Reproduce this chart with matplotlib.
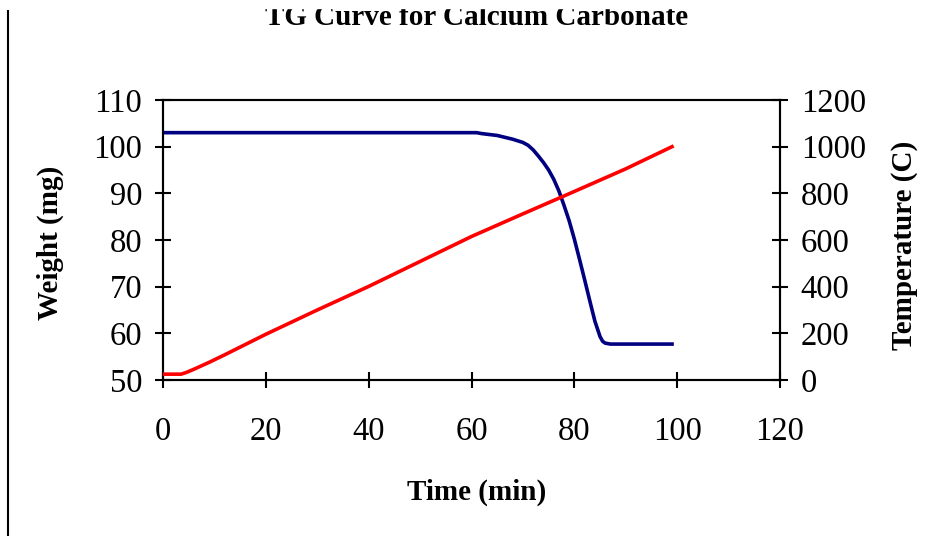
import matplotlib
matplotlib.use("Agg")
import matplotlib.pyplot as plt
from matplotlib.lines import Line2D
from matplotlib.patches import Rectangle

# weight loss curve (left axis)
time_w = [0, 61, 62, 65, 68, 70, 71, 72, 73, 74, 75, 76, 77, 78, 79, 80, 81, 82, 83, 84, 85, 85.5,
          86, 87, 99]
weight = [103, 103, 102.8, 102.4, 101.6, 100.9, 100.3, 99.3, 98.0, 96.6, 95.0, 93.0, 90.5, 87.4,
          84.1, 80.2, 75.9, 71.5, 67.0, 62.6, 59.3, 58.3, 57.9, 57.7, 57.7]

# furnace temperature (right axis)
time_t = [0, 3.5, 4.5, 6, 9, 12, 14, 20, 30, 40, 50, 60, 70, 80, 90, 99]
temp = [25, 25, 32, 46, 76, 108, 130, 196, 300, 401, 508, 615, 712, 808, 905, 1000]

x_ticks = [0, 20, 40, 60, 80, 100, 120]
w_ticks = [50, 60, 70, 80, 90, 100, 110]
t_ticks = [0, 200, 400, 600, 800, 1000, 1200]

plt.rcParams['font.family'] = ['Liberation Serif', 'DejaVu Serif']

W, H = 940, 536
fig = plt.figure(figsize=(W / 100, H / 100), dpi=100)
ax = fig.add_axes([163 / W, 1 - 380 / H, 617 / W, 280 / H])
ax2 = ax.twinx()

ax.plot(time_w, weight, color='#000080', lw=2.6, zorder=3)
ax2.plot(time_t, temp, color='#ff0000', lw=2.6, zorder=3)

ax.set_xlim(0, 120)
ax.set_ylim(50, 110)
ax2.set_ylim(0, 1200)
ax.set_xticks(x_ticks)
ax.set_yticks(w_ticks)
ax2.set_yticks(t_ticks)

for a in (ax, ax2):
    for s in a.spines.values():
        s.set_linewidth(1.5)
    a.tick_params(direction='inout', length=12, width=1.5, labelsize=23.5)
ax.tick_params(axis='x', pad=20)
ax.tick_params(axis='y', pad=9)
ax2.tick_params(axis='y', pad=9)

fig.text(477 / W, 1 - 25 / H, "TG Curve for Calcium Carbonate", ha='center', va='baseline',
         fontsize=21, fontweight='bold')
fig.text(477 / W, 1 - 492 / H, "Time (min)", ha='center', va='center', fontsize=21, fontweight='bold')
fig.text(50 / W, 1 - 243 / H, "Weight (mg)", ha='center', va='center', rotation=90,
         fontsize=21, fontweight='bold')
fig.text(905 / W, 1 - 245 / H, "Temperature (C)", ha='center', va='center', rotation=90,
         fontsize=21, fontweight='bold')

# cropped top edge and the frame line on the left
fig.add_artist(Rectangle((40 / W, 1 - 8 / H), 900 / W, 8 / H, transform=fig.transFigure,
                         color='white', zorder=10))
fig.add_artist(Line2D([8 / W, 8 / W], [0, 1 - 11 / H], color='black', lw=1.5))

fig.savefig("out.png", dpi=100)
